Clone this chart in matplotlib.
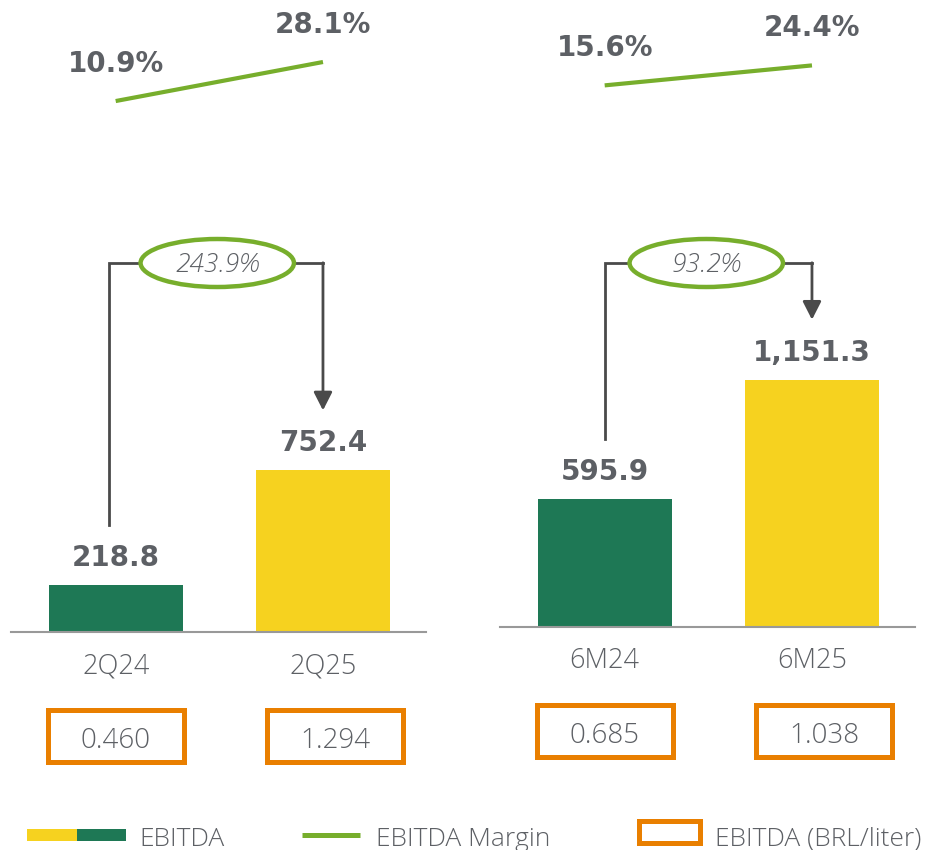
import matplotlib
matplotlib.use("Agg")
import matplotlib.pyplot as plt
from matplotlib.patches import Rectangle, Ellipse

# データ
left_cats = ["2Q24", "2Q25"]
left_ebitda = [218.8, 752.4]
left_margin = [10.9, 28.1]
left_growth = "243.9%"
left_brl = ["0.460", "1.294"]

right_cats = ["6M24", "6M25"]
right_ebitda = [595.9, 1151.3]
right_margin = [15.6, 24.4]
right_growth = "93.2%"
right_brl = ["0.685", "1.038"]

# 色
GREEN = "#1E7855"
YELLOW = "#F6D21F"
LINE_GREEN = "#77AE2C"
ORANGE = "#E97F00"
GREY = "#5D6065"
DARK = "#4A4A4A"

LIGHT = dict(family=["Open Sans", "DejaVu Sans"], fontweight="light")
BOLD = dict(family=["DejaVu Sans"], fontweight="bold")

W, H = 935, 850
PPU = 0.2148      # px per EBITDA unit
MPPX = 2.27       # px per margin point
PT = 0.72         # pt per px (dpi 100)

fig = plt.figure(figsize=(W / 100, H / 100), dpi=100)


def draw_panel(x0, base, cats, ebitda, margin, growth, brl, bx=0.0):
    ax = fig.add_axes([x0 / W, (H - base) / H, 415 / W, base / H])
    ax.set_xlim(-0.505, 1.497)
    ax.set_ylim(0, base / PPU)
    for s in ["top", "right", "left"]:
        ax.spines[s].set_visible(False)
    ax.spines["bottom"].set_color("#999999")
    ax.spines["bottom"].set_linewidth(1.5)
    ax.set_xticks([])
    ax.set_yticks([])
    ax.patch.set_alpha(0)

    ax.bar([0, 1], ebitda, width=0.646, color=[GREEN, YELLOW], zorder=2)

    for i, v in enumerate(ebitda):
        ax.annotate(f"{v:,.1f}", xy=(i, v), xytext=(0, 19 * PT),
                    textcoords="offset points", ha="center", va="baseline",
                    fontsize=20, color=GREY, **BOLD)
        ax.annotate(cats[i], xy=(i, 0), xytext=(0, -41 * PT),
                    textcoords="offset points", ha="center", va="baseline",
                    fontsize=19.5, color=GREY, annotation_clip=False, **LIGHT)

    # BRL/liter の枠
    for i, t in enumerate(brl):
        dx = 0.058 * i
        yc = -103.5 / PPU
        bw, bh = 0.655, 52 / PPU
        ax.add_patch(Rectangle((i + dx - bw / 2, yc - bh / 2), bw, bh,
                               fill=False, edgecolor=ORANGE, linewidth=3.6,
                               clip_on=False, zorder=3))
        ax.annotate(t, xy=(i + dx, 0), xytext=(0, -116 * PT),
                    textcoords="offset points", ha="center", va="baseline",
                    fontsize=20, color=GREY, annotation_clip=False, **LIGHT)

    # 成長率のブラケット
    top = (base - 263) / PPU
    gap = 60 / PPU
    ax.plot([bx, bx, 1], [ebitda[0] + gap, top, top], color=DARK, lw=2,
            zorder=3, solid_joinstyle="miter")
    ax.annotate("", xy=(1, ebitda[1] + gap), xytext=(1, top + 1),
                arrowprops=dict(arrowstyle="-|>,head_length=0.55,head_width=0.28",
                                color=DARK, lw=2, mutation_scale=20,
                                shrinkA=0, shrinkB=0), zorder=3)
    ax.add_patch(Ellipse((0.49, top), 0.74, 48 / PPU, facecolor="white",
                         edgecolor=LINE_GREEN, linewidth=3.2, zorder=4,
                         clip_on=False))
    ax.text(0.49, top, growth, ha="center", va="center_baseline", fontsize=19,
            color=GREY, fontstyle="italic", zorder=5, **LIGHT)

    # EBITDA Margin
    ax2 = ax.twinx()
    ax2.set_ylim(-223, -223 + base / MPPX)
    ax2.axis("off")
    ax2.plot([0, 1], margin, color=LINE_GREEN, lw=3, solid_capstyle="butt")
    for i, m in enumerate(margin):
        ax2.annotate(f"{m:.1f}%", xy=(i, m), xytext=(0, 29 * PT),
                     textcoords="offset points", ha="center", va="baseline",
                     fontsize=20, color=GREY, annotation_clip=False, **BOLD)
    return ax


draw_panel(11, 632, left_cats, left_ebitda, left_margin, left_growth, left_brl, bx=-0.03)
draw_panel(500, 627, right_cats, right_ebitda, right_margin, right_growth, right_brl)

# 凡例
lg = fig.add_axes([0, 0, 1, 40 / H])
lg.set_xlim(0, W)
lg.set_ylim(H, H - 40)
lg.axis("off")
lg.add_patch(Rectangle((27, 829), 50, 12, color=YELLOW, lw=0))
lg.add_patch(Rectangle((77, 829), 49, 12, color=GREEN, lw=0))
lg.text(139, 836, "EBITDA", va="center_baseline", fontsize=19, color=GREY, **LIGHT)
lg.plot([302, 360], [835, 835], color=LINE_GREEN, lw=3.6, solid_capstyle="butt")
lg.text(376, 836, "EBITDA Margin", va="center_baseline", fontsize=19, color=GREY, **LIGHT)
lg.add_patch(Rectangle((638.5, 821), 61, 22, fill=False, edgecolor=ORANGE, lw=3.6))
lg.text(715, 836, "EBITDA (BRL/liter)", va="center_baseline", fontsize=19, color=GREY, **LIGHT)

fig.savefig("out.png", dpi=100)
